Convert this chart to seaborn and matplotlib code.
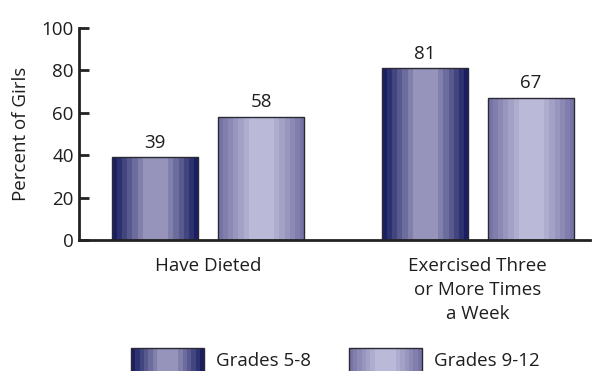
import numpy as np
import pandas as pd
import matplotlib
matplotlib.use("Agg")
import matplotlib.pyplot as plt
import seaborn as sns
from matplotlib.colors import to_rgb
from matplotlib.patches import Rectangle
from matplotlib.legend_handler import HandlerBase

# Data
categories = ["Have Dieted", "Exercised Three\nor More Times\na Week"]
groups = ["Grades 5-8", "Grades 9-12"]
grades_5_8 = [39, 81]
grades_9_12 = [58, 67]

df = pd.DataFrame({
    "category": categories * 2,
    "group": [groups[0]] * 2 + [groups[1]] * 2,
    "value": grades_5_8 + grades_9_12,
})

# Edge / centre colours for the banded cylinder look
shades = {
    groups[0]: ("#1a1e62", "#9694bb"),
    groups[1]: ("#7673a5", "#bab9d7"),
}
# stepped profile: 0 = edge colour, 1 = centre colour
profile = np.array([0, 1, 2, 3, 4, 5, 6, 6, 6, 6, 6, 5, 4, 3, 2, 1, 0]) / 6.0

FS = 13.5
TXT = "#1e1e1e"


def band_colors(group):
    edge, centre = (np.array(to_rgb(c)) for c in shades[group])
    return [tuple(edge + (centre - edge) * s) for s in profile]


sns.set_theme(style="white")
plt.rcParams["font.family"] = ["Open Sans", "DejaVu Sans"]
plt.rcParams["font.size"] = FS

fig = plt.figure(figsize=(6.0, 3.71), dpi=100)
ax = fig.add_axes([0.132, 0.353, 0.851, 0.572])

sns.barplot(data=df, x="category", y="value", hue="group", order=categories,
            hue_order=groups, palette=[shades[g][1] for g in groups],
            width=0.785, gap=0.187, edgecolor="#2a2a35", linewidth=1.0,
            legend=False, ax=ax)

# Replace the flat fill with vertical bands, clipped to each bar
for container, group in zip(ax.containers, groups):
    cols = np.array(band_colors(group))[None, :, :]
    vals = df[df.group == group]["value"].tolist()
    for bar in container:
        x0, w = bar.get_x(), bar.get_width()
        h = bar.get_height()
        im = ax.imshow(cols, extent=[x0, x0 + w, 0, h], aspect="auto",
                       interpolation="nearest", zorder=bar.get_zorder())
        im.set_clip_path(bar)
        bar.set_facecolor("none")
        bar.set_zorder(bar.get_zorder() + 0.1)
    ax.bar_label(container, labels=[str(v) for v in vals],
                 padding=4, fontsize=FS, color=TXT)

ax.set_xlim(-0.478, 1.415)
ax.set_ylim(0, 100)
ax.set_yticks([0, 20, 40, 60, 80, 100])
ax.set_xlabel("")
ax.set_ylabel("Percent of Girls", fontsize=FS, color=TXT, labelpad=8)

for side in ["top", "right"]:
    ax.spines[side].set_visible(False)
for side in ["left", "bottom"]:
    ax.spines[side].set_color("#222222")
    ax.spines[side].set_linewidth(2)

ax.tick_params(axis="y", direction="in", length=7, width=2, color="#222222",
               labelsize=FS, labelcolor=TXT, pad=4, left=True)
ax.tick_params(axis="x", length=0, labelsize=FS, labelcolor=TXT, pad=12)
for lbl in ax.get_xticklabels():
    lbl.set_linespacing(1.45)


class BandHandler(HandlerBase):
    def __init__(self, group):
        super().__init__()
        self.group = group

    def create_artists(self, legend, orig_handle, xdescent, ydescent,
                       width, height, fontsize, trans):
        cols = band_colors(self.group)
        n = len(cols)
        artists = []
        for i, c in enumerate(cols):
            r = Rectangle((-xdescent + i * width / n, -ydescent), width / n, height,
                          facecolor=c, edgecolor="none", transform=trans)
            artists.append(r)
        artists.append(Rectangle((-xdescent, -ydescent), width, height,
                                 facecolor="none", edgecolor="#2a2a35",
                                 linewidth=1.0, transform=trans))
        return artists


handles = [Rectangle((0, 0), 1, 1, label=g) for g in groups]
fig.legend(handles=handles, labels=groups, loc="upper left",
           bbox_to_anchor=(131 / 600, 1 - 348 / 371), ncol=2, frameon=False,
           borderpad=0, borderaxespad=0,
           handler_map={h: BandHandler(g) for h, g in zip(handles, groups)},
           handlelength=3.9, handleheight=1.6, handletextpad=0.65,
           columnspacing=2.0, fontsize=FS, labelcolor=TXT)

fig.savefig("out.png", dpi=100)
